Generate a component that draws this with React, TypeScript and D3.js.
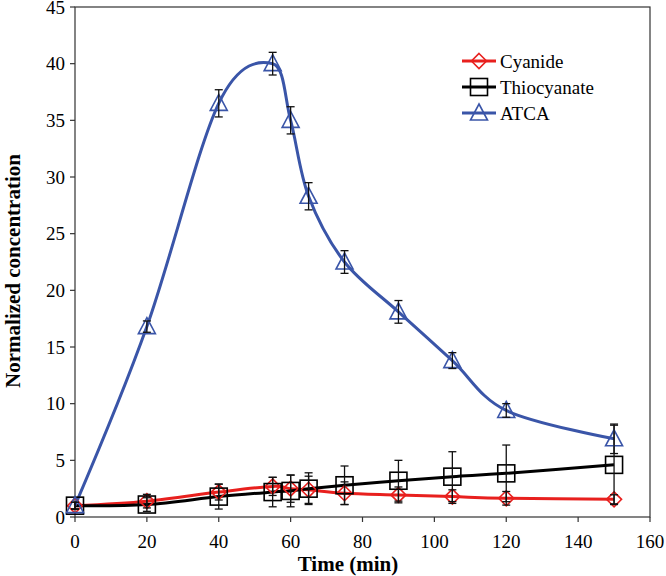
import React from "react";
import * as d3 from "d3";

const times = [0, 20, 40, 55, 60, 65, 75, 90, 105, 120, 150];
const cyanide = [1, 1.4, 2.2, 2.7, 2.5, 2.4, 2.1, 1.95, 1.8, 1.65, 1.56];
const cyanideErr = [0.3, 0.6, 0.7, 0.8, 1.2, 1.2, 1.0, 0.7, 0.6, 0.6, 0.4];
const thiocyanate = [1, 1.1, 1.8, 2.2, 2.3, 2.5, 2.8, 3.2, 3.56, 3.85, 4.6];
const thiocyanateErr = [0.3, 0.6, 1.1, 1.3, 1.4, 1.4, 1.7, 1.8, 2.2, 2.5, 3.5];
const atca = [1, 16.8, 36.5, 40, 35, 28.3, 22.5, 18.1, 13.8, 9.4, 6.9];
const atcaErr = [0.3, 0.5, 1.2, 1.0, 1.2, 1.2, 1.0, 1.0, 0.7, 0.6, 1.3];
const xTicks = [0, 20, 40, 60, 80, 100, 120, 140, 160];
const yTicks = [0, 5, 10, 15, 20, 25, 30, 35, 40, 45];
const seriesNames = ["Cyanide", "Thiocyanate", "ATCA"];

const W = 666, H = 576;
const L = 75, R = 650, T = 7, B = 517;
const font = "Liberation Serif, DejaVu Serif, serif";

export default function App() {
  const x = d3.scaleLinear().domain([0, 160]).range([L, R]);
  const y = d3.scaleLinear().domain([0, 45]).range([B, T]);
  const line = d3
    .line<number>()
    .x((_, i) => x(times[i]))
    .y((d) => y(d))
    .curve(d3.curveCardinal.tension(0));

  const series = [
    { name: seriesNames[0], vals: cyanide, err: cyanideErr, color: "#e8201e", marker: "diamond" },
    { name: seriesNames[1], vals: thiocyanate, err: thiocyanateErr, color: "#000000", marker: "square" },
    { name: seriesNames[2], vals: atca, err: atcaErr, color: "#3a55a8", marker: "triangle" },
  ];

  const marker = (type: string, cx: number, cy: number, color: string, key: string) => {
    if (type === "diamond")
      return (
        <path key={key} d={`M${cx},${cy - 7.5}L${cx + 7.5},${cy}L${cx},${cy + 7.5}L${cx - 7.5},${cy}Z`} fill="none" stroke={color} strokeWidth={1.6} />
      );
    if (type === "square")
      return <rect key={key} x={cx - 8.5} y={cy - 8.5} width={17} height={17} fill="none" stroke={color} strokeWidth={1.6} />;
    return (
      <path key={key} d={`M${cx},${cy - 9}L${cx + 8.5},${cy + 7}L${cx - 8.5},${cy + 7}Z`} fill="none" stroke={color} strokeWidth={1.6} />
    );
  };

  const txt = { fontFamily: font };

  return (
    <svg width={W} height={H} style={{ position: "absolute", left: 0, top: 0, background: "#fff" }}>
      <rect x={L} y={T} width={R - L} height={B - T} fill="none" stroke="#333" strokeWidth={1.2} />
      {yTicks.map((t) => (
        <g key={"y" + t}>
          <line x1={L - 5} x2={L} y1={y(t)} y2={y(t)} stroke="#333" strokeWidth={1.2} />
          <text x={L - 10} y={y(t)} dy="0.35em" textAnchor="end" fontSize={19} style={txt}>
            {t}
          </text>
        </g>
      ))}
      {xTicks.map((t) => (
        <g key={"x" + t}>
          <line x1={x(t)} x2={x(t)} y1={B} y2={B + 5} stroke="#333" strokeWidth={1.2} />
          <text x={x(t)} y={B + 31} textAnchor="middle" fontSize={19} style={txt}>
            {t}
          </text>
        </g>
      ))}
      <text x={348} y={571} textAnchor="middle" fontSize={21} fontWeight="bold" style={txt}>
        Time (min)
      </text>
      <text transform={`translate(20,271) rotate(-90)`} textAnchor="middle" fontSize={21} fontWeight="bold" style={txt}>
        Normalized concentration
      </text>
      {series.map((s) => (
        <path key={"l" + s.name} d={line(s.vals) || ""} fill="none" stroke={s.color} strokeWidth={3} />
      ))}
      {series.map((s) => (
        <g key={"m" + s.name}>
          {s.vals.map((v, i) => marker(s.marker, x(times[i]), y(v), s.color, s.name + i))}
          {s.vals.map((v, i) => {
            const cx = x(times[i]);
            const y1 = y(v + s.err[i]);
            const y2 = y(v - s.err[i]);
            return (
              <g key={"e" + s.name + i} stroke="#111" strokeWidth={1.3}>
                <line x1={cx} x2={cx} y1={y1} y2={y2} />
                <line x1={cx - 4} x2={cx + 4} y1={y1} y2={y1} />
                <line x1={cx - 4} x2={cx + 4} y1={y2} y2={y2} />
              </g>
            );
          })}
        </g>
      ))}
      {series.map((s, i) => {
        const ly = 61 + i * 26;
        return (
          <g key={"lg" + s.name}>
            <line x1={462} x2={496} y1={ly} y2={ly} stroke={s.color} strokeWidth={3} />
            {marker(s.marker, 479, ly, s.color, "lgm" + i)}
            <text x={500} y={ly} dy="0.35em" fontSize={19} style={txt}>
              {s.name}
            </text>
          </g>
        );
      })}
    </svg>
  );
}
